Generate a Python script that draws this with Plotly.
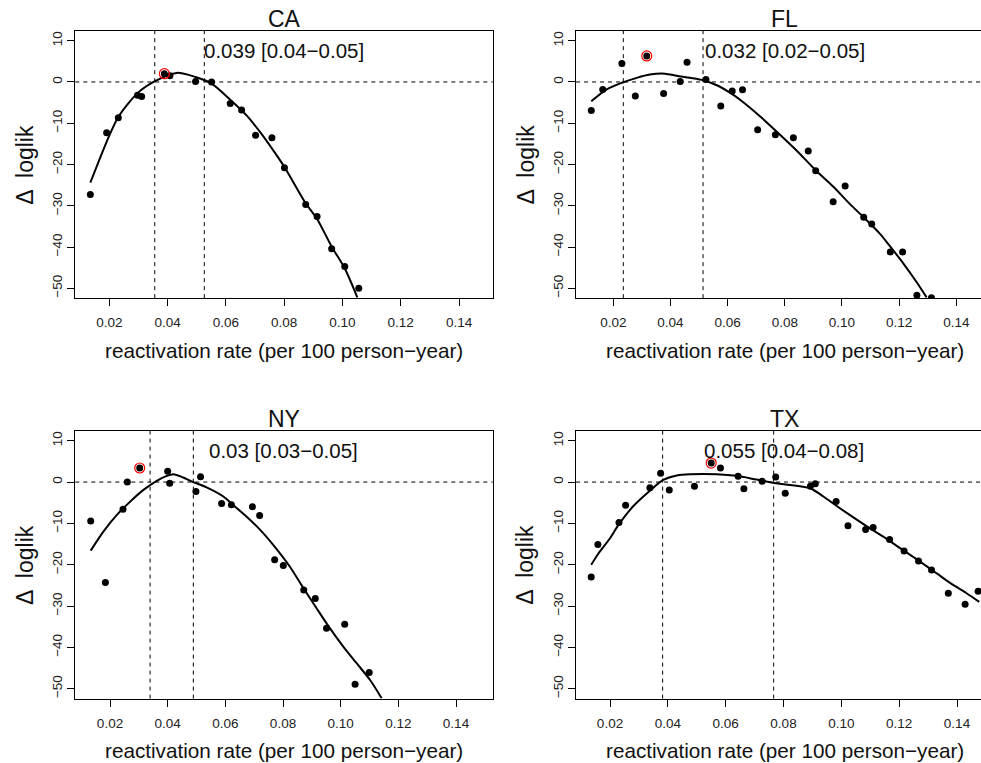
import plotly.graph_objects as go

W, H = 981, 763

# ---------------- data ----------------
ca_x = [0.0135, 0.0191, 0.0231, 0.0297, 0.0311, 0.0389, 0.0408, 0.0496, 0.0551, 0.0615,
        0.0654, 0.0702, 0.0758, 0.0801, 0.0874, 0.0913, 0.0963, 0.1008, 0.1056]
ca_y = [-27.3, -12.3, -8.7, -3.2, -3.5, 2.0, 1.5, 0.1, 0.0, -5.2,
        -6.8, -12.9, -13.5, -20.8, -29.7, -32.6, -40.4, -44.7, -50.0]
ca_fit_x = [0.0135, 0.0191, 0.0231, 0.0297, 0.0357, 0.0431, 0.0496, 0.0551, 0.0615, 0.0671,
            0.0717, 0.0762, 0.0801, 0.0874, 0.0913, 0.0963, 0.1008, 0.1051]
ca_fit_y = [-24.4, -14.5, -8.5, -2.7, 0.2, 2.2, 1.2, -0.4, -4.3, -8.1,
            -12.1, -16.5, -20.6, -29.4, -33.2, -39.9, -45.2, -52.2]
ca_best = (0.0389, 2.0)
ca_ci = [0.0356, 0.0526]
ca_label = "0.039 [0.04\u22120.05]"

fl_x = [0.0123, 0.0163, 0.0230, 0.0277, 0.0317, 0.0376, 0.0434, 0.0458, 0.0524, 0.0576,
        0.0616, 0.0652, 0.0705, 0.0767, 0.0830, 0.0882, 0.0908, 0.0969, 0.1011, 0.1076,
        0.1104, 0.1169, 0.1212, 0.1262, 0.1313]
fl_y = [-6.9, -1.8, 4.5, -3.4, 6.3, -2.8, 0.1, 4.8, 0.6, -5.8,
        -2.2, -1.9, -11.6, -12.8, -13.5, -16.7, -21.5, -29.0, -25.2, -32.8,
        -34.4, -41.2, -41.2, -51.7, -52.3]
fl_fit_x = [0.0123, 0.0177, 0.0230, 0.0282, 0.0328, 0.0381, 0.0422, 0.0468, 0.0515, 0.0562,
            0.0608, 0.0649, 0.0713, 0.0771, 0.0841, 0.0908, 0.0970, 0.1028, 0.1076, 0.1133,
            0.1169, 0.1215, 0.1262, 0.1296]
fl_fit_y = [-4.7, -1.8, -0.2, 1.0, 1.8, 2.0, 1.5, 1.0, 0.4, -0.8,
            -2.6, -4.6, -8.3, -12.0, -16.6, -21.4, -25.4, -29.6, -32.8, -36.8,
            -39.9, -44.0, -48.6, -52.2]
fl_best = (0.0317, 6.3)
fl_ci = [0.0235, 0.0514]
fl_label = "0.032 [0.02\u22120.05]"

ny_x = [0.0133, 0.0184, 0.0245, 0.0260, 0.0303, 0.0400, 0.0407, 0.0498, 0.0514, 0.0587,
        0.0621, 0.0694, 0.0719, 0.0771, 0.0801, 0.0872, 0.0912, 0.0951, 0.1014, 0.1050, 0.1099]
ny_y = [-9.4, -24.3, -6.6, 0.0, 3.4, 2.6, -0.3, -2.3, 1.3, -5.2,
        -5.5, -6.0, -8.1, -18.8, -20.2, -26.1, -28.2, -35.4, -34.4, -48.9, -46.1]
ny_fit_x = [0.0133, 0.0177, 0.0223, 0.0269, 0.0316, 0.0362, 0.0397, 0.0420, 0.0454, 0.0489,
            0.0535, 0.0593, 0.0628, 0.0674, 0.0720, 0.0766, 0.0824, 0.0871, 0.0917, 0.0963,
            0.1009, 0.1056, 0.1102, 0.1142]
ny_fit_y = [-16.6, -12.0, -8.0, -4.8, -1.9, 0.3, 1.5, 1.9, 1.1, 0.0,
            -1.3, -3.5, -5.6, -8.4, -11.5, -15.2, -20.5, -25.7, -30.6, -35.4,
            -39.8, -43.9, -47.9, -52.3]
ny_best = (0.0303, 3.4)
ny_ci = [0.0339, 0.0489]
ny_label = "0.03 [0.03\u22120.05]"

tx_x = [0.0135, 0.0158, 0.0231, 0.0254, 0.0338, 0.0375, 0.0405, 0.0492, 0.0550, 0.0582,
        0.0643, 0.0663, 0.0726, 0.0773, 0.0806, 0.0893, 0.0910, 0.0982, 0.1023, 0.1084,
        0.1110, 0.1167, 0.1217, 0.1267, 0.1312, 0.1370, 0.1428, 0.1473]
tx_y = [-23.0, -15.1, -9.8, -5.6, -1.4, 2.1, -1.9, -1.0, 4.6, 3.4,
        1.4, -1.6, 0.2, 1.2, -2.7, -1.0, -0.4, -4.7, -10.6, -11.5,
        -11.0, -13.9, -16.7, -19.1, -21.3, -26.9, -29.6, -26.4]
tx_fit_x = [0.0135, 0.0159, 0.0200, 0.0231, 0.0281, 0.0338, 0.0384, 0.0431, 0.0477, 0.0569,
            0.0638, 0.0707, 0.0776, 0.0823, 0.0892, 0.0938, 0.0984, 0.1030, 0.1099, 0.1145,
            0.1214, 0.1261, 0.1330, 0.1376, 0.1433, 0.1477]
tx_fit_y = [-20.0, -17.4, -13.6, -10.2, -5.8, -2.1, 0.5, 1.6, 1.9, 1.9,
            1.5, 0.6, -0.3, -0.7, -1.5, -3.5, -5.8, -8.0, -11.2, -13.2,
            -16.5, -18.7, -22.1, -24.4, -26.9, -29.0]
tx_best = (0.0550, 4.6)
tx_ci = [0.0382, 0.0766]
tx_label = "0.055 [0.04\u22120.08]"

x_tickvals = [0.02, 0.04, 0.06, 0.08, 0.10, 0.12, 0.14]
x_ticktext = ["0.02", "0.04", "0.06", "0.08", "0.10", "0.12", "0.14"]
y_tickvals = [-50, -40, -30, -20, -10, 0, 10]
y_ticktext = ["\u221250", "\u221240", "\u221230", "\u221220", "\u221210", "0", "10"]

x_title = "reactivation rate (per 100 person\u2212year)"
y_title = "\u0394\u2002loglik"
label_pos = (0.08, 7.7)

# ---------------- layout geometry (pixels) ----------------
FONT = "Liberation Sans, Arial, Helvetica, sans-serif"
panels = [
    dict(name="CA", x=ca_x, y=ca_y, fx=ca_fit_x, fy=ca_fit_y, best=ca_best, ci=ca_ci, lab=ca_label,
         left=75.3, right=492.7, top=30.8, bottom=298.2, xr=[0.00834, 0.15155], full_right=492.7),
    dict(name="FL", x=fl_x, y=fl_y, fx=fl_fit_x, fy=fl_fit_y, best=fl_best, ci=fl_ci, lab=fl_label,
         left=576.0, right=981.0, top=30.8, bottom=298.2, xr=[0.00695, 0.14863], full_right=993.4),
    dict(name="NY", x=ny_x, y=ny_y, fx=ny_fit_x, fy=ny_fit_y, best=ny_best, ci=ny_ci, lab=ny_label,
         left=75.3, right=492.7, top=430.8, bottom=698.6, xr=[0.00796, 0.15273], full_right=492.7),
    dict(name="TX", x=tx_x, y=tx_y, fx=tx_fit_x, fy=tx_fit_y, best=tx_best, ci=tx_ci, lab=tx_label,
         left=576.0, right=981.0, top=430.8, bottom=698.6, xr=[0.00824, 0.1483], full_right=993.4),
]

fig = go.Figure()
layout = dict(width=W, height=H, margin=dict(l=0, r=0, t=0, b=0, pad=0),
              paper_bgcolor="white", plot_bgcolor="white", showlegend=False,
              font=dict(family=FONT, color="black"))
annotations = []
shapes = []

for i, p in enumerate(panels, start=1):
    xa = "x" if i == 1 else f"x{i}"
    ya = "y" if i == 1 else f"y{i}"
    xkey = "xaxis" if i == 1 else f"xaxis{i}"
    ykey = "yaxis" if i == 1 else f"yaxis{i}"
    clipped = p["right"] < p["full_right"]
    layout[xkey] = dict(domain=[p["left"] / W, p["right"] / W], range=p["xr"], anchor=ya,
                        showline=True, linecolor="black", linewidth=1, mirror=True,
                        ticks="outside", ticklen=7, tickwidth=1, tickcolor="black",
                        tickvals=x_tickvals, ticktext=x_ticktext, ticklabelstandoff=5,
                        tickfont=dict(size=13.5, family=FONT, color="#222"),
                        showgrid=False, zeroline=False, fixedrange=True)
    layout[ykey] = dict(domain=[1 - p["bottom"] / H, 1 - p["top"] / H], range=[-52.4, 12.4], anchor=xa,
                        showline=True, linecolor="black", linewidth=1, mirror=not clipped,
                        ticks="outside", ticklen=7, tickwidth=1, tickcolor="black",
                        tickvals=y_tickvals, ticktext=y_ticktext, tickangle=-90,
                        tickfont=dict(size=13.5, family=FONT, color="#222"),
                        showgrid=False, zeroline=False, fixedrange=True)

    # fitted curve
    fig.add_trace(go.Scatter(x=p["fx"], y=p["fy"], mode="lines", xaxis=xa, yaxis=ya,
                             line=dict(color="black", width=2, shape="spline", smoothing=0.8),
                             hoverinfo="skip"))
    # points
    fig.add_trace(go.Scatter(x=p["x"], y=p["y"], mode="markers", xaxis=xa, yaxis=ya,
                             marker=dict(color="black", size=7, line=dict(width=0))))
    # best point highlight
    fig.add_trace(go.Scatter(x=[p["best"][0]], y=[p["best"][1]], mode="markers", xaxis=xa, yaxis=ya,
                             marker=dict(symbol="circle-open", color="red", size=10, line=dict(width=1.2, color="red"))))

    # reference lines
    shapes.append(dict(type="line", xref=f"{xa} domain", yref=ya, x0=0, x1=1, y0=0, y1=0,
                       line=dict(color="black", width=1, dash="4px,4px")))
    for c in p["ci"]:
        shapes.append(dict(type="line", xref=xa, yref=f"{ya} domain", x0=c, x1=c, y0=0, y1=1,
                           line=dict(color="black", width=1, dash="4px,4px")))

    # in-panel label
    annotations.append(dict(x=label_pos[0], y=label_pos[1], xref=xa, yref=ya, text=p["lab"],
                            showarrow=False, xanchor="center", yanchor="middle",
                            font=dict(size=20.5, family=FONT, color="#111")))

    cx = (p["left"] + p["full_right"]) / 2
    cy = (p["top"] + p["bottom"]) / 2
    # panel title
    annotations.append(dict(x=cx / W, y=1 - (p["top"] - 12) / H, xref="paper", yref="paper", text=p["name"],
                            showarrow=False, xanchor="center", yanchor="middle",
                            font=dict(size=23, family=FONT, color="#111")))
    # x title
    annotations.append(dict(x=cx / W, y=1 - (p["bottom"] + 52) / H, xref="paper", yref="paper", text=x_title,
                            showarrow=False, xanchor="center", yanchor="middle",
                            font=dict(size=20.7, family=FONT, color="#111")))
    # y title
    annotations.append(dict(x=(p["left"] - 51) / W, y=1 - cy / H, xref="paper", yref="paper", text=y_title,
                            showarrow=False, xanchor="center", yanchor="middle", textangle=-90,
                            font=dict(size=23, family=FONT, color="#111")))

layout["annotations"] = annotations
layout["shapes"] = shapes
fig.update_layout(**layout)
fig.write_html("out.html")
